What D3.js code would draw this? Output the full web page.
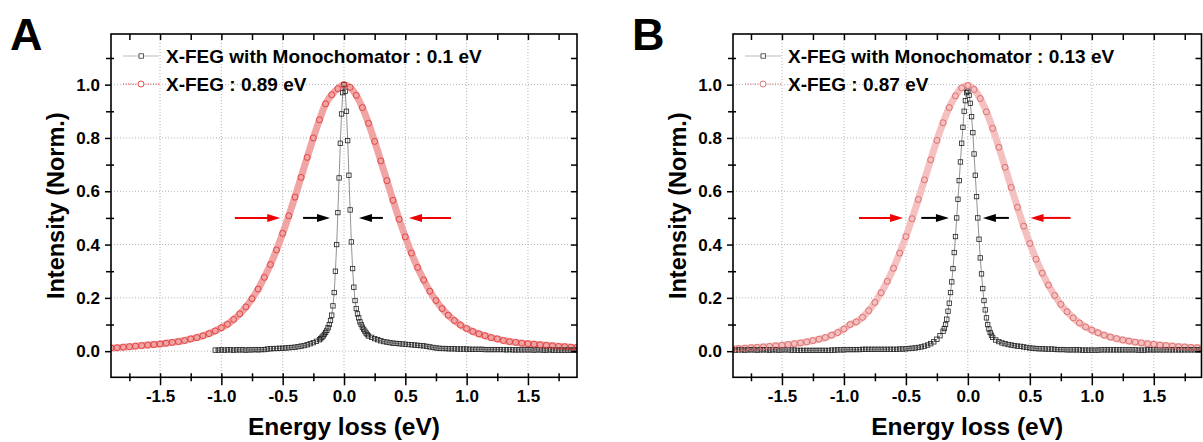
<!DOCTYPE html>
<html>
<head>
<meta charset="utf-8">
<script src="https://cdn.jsdelivr.net/npm/d3@7/dist/d3.min.js"></script>
<style>
body{margin:0;background:#fff}
text{font-family:"Liberation Sans",Arial,sans-serif;font-weight:bold;fill:#000}
</style>
</head>
<body>
<div id="canvas"></div>
<script>
"use strict"

let svgWidth=1203
let svgHeight=442

// energy sampling grids (eV)
let grid=(a,b,s)=>d3.range(Math.round((b-a)/s)+1).map(i=>+(a+i*s).toFixed(3))
let wideE=grid(-1.9,1.9,0.05)
let peakE=grid(-0.2,0.2,0.01)
let tailLeftA_E=grid(-1.05,-0.225,0.025)
let tailLeftB_E=grid(-1.9,-0.225,0.025)
let tailRight_E=grid(0.225,1.9,0.025)

// X-FEG (no monochromator), on wideE
let fegA=[.012,.013,.015,.017,.019,.021,.023,.025,.027,.030,.033,.036,.040,.046,.051,.058,.066,.076,.088,.101,
  .119,.140,.166,.197,.233,.277,.325,.380,.442,.508,.578,.652,.727,.800,.868,.928,.962,.985,1.000,
  .990,.960,.914,.855,.787,.714,.640,.566,.495,.429,.368,.314,.267,.225,.190,.160,.135,.115,.098,.085,
  .074,.065,.058,.051,.046,.040,.036,.033,.030,.028,.026,.024,.022,.020,.018,.017,.015,.014]
let fegB=[.009,.010,.011,.013,.014,.016,.018,.020,.022,.025,.028,.031,.035,.040,.045,.051,.060,.070,.083,.100,
  .110,.127,.152,.183,.219,.262,.311,.368,.430,.497,.569,.643,.718,.791,.857,.914,.958,.988,.997,
  .982,.948,.898,.836,.765,.690,.614,.540,.469,.404,.345,.293,.248,.209,.176,.148,.125,.106,.091,.079,
  .069,.060,.053,.047,.042,.038,.034,.031,.028,.026,.023,.021,.019,.017,.016,.014,.013,.012]

// X-FEG with monochromator: left tail, peak (peakE), right tail
let monoA_left=[.004,.004,.005,.004,.005,.005,.004,.005,.005,.005,.004,.005,.005,.006,.005,.006,.006,.008,.009,.010,
  .010,.011,.011,.012,.013,.014,.015,.017,.019,.021,.024,.028,.032,.037]
let monoA_peak=[.043,.047,.052,.057,.063,.070,.078,.088,.100,.115,.135,.17,.22,.30,.40,.52,.65,.78,.89,.97,1.0,
  .975,.90,.79,.66,.53,.41,.31,.24,.19,.16,.14,.125,.11,.10,.09,.082,.075,.068,.062,.057]
let monoA_right=[.052,.047,.043,.039,.036,.034,.032,.030,.029,.028,.027,.026,.025,.024,.023,.022,.021,.020,.018,.016,
  .014,.012,.011,.010,.010,.009,.009,.009,.008,.008,.008,.008,.007,.007,.007,.007,.007,.006,.006,.006,
  .006,.006,.006,.006,.005,.006,.005,.005,.005,.005,.005,.005,.005,.004,.005,.005,.004,.004,.005,.004,
  .004,.004,.004,.004,.004,.004,.004,.004]

let monoB_left=[.005,.004,.005,.005,.004,.005,.005,.005,.004,.005,.005,.005,.004,.005,.005,.004,.005,.005,.005,.004,
  .004,.003,.003,.003,.003,.003,.003,.003,.003,.003,.003,.003,.004,.004,.005,.005,.005,.006,.006,.006,
  .006,.006,.007,.007,.007,.007,.007,.007,.007,.007,.007,.007,.007,.007,.008,
  .008,.009,.010,.011,.012,.014,.016,.019,.023,.028,.035,.045,.058]
let monoB_peak=[.075,.085,.10,.12,.15,.18,.22,.26,.31,.37,.43,.50,.57,.64,.71,.78,.84,.90,.94,.97,.975,
  .96,.93,.88,.82,.74,.66,.58,.50,.42,.35,.29,.235,.19,.155,.125,.10,.083,.07,.06,.052]
let monoB_right=[.042,.036,.031,.028,.025,.023,.021,.019,.018,.016,.014,.012,.011,.010,.009,.009,.008,.008,.008,.007,
  .006,.006,.006,.005,.005,.005,.005,.005,.004,.004,.004,.004,.004,.004,.005,.005,.005,.005,.005,.005,
  .005,.005,.005,.005,.005,.005,.004,.004,.004,.005,.005,.005,.005,.005,.005,.005,.005,.005,.005,.005,
  .005,.005,.005,.005,.005,.005,.005,.005]

let legendA=["X-FEG with Monochomator : 0.1 eV","X-FEG : 0.89 eV"]
let legendB=["X-FEG with Monochomator : 0.13 eV","X-FEG : 0.87 eV"]

// FWHM markers at half maximum: [from, to, colour]
let arrowsA=[[-0.89,-0.52,"red"],[-0.334,-0.114,"black"],[0.317,0.122,"black"],[0.872,0.53,"red"]]
let arrowsB=[[-0.878,-0.523,"red"],[-0.376,-0.153,"black"],[0.331,0.121,"black"],[0.828,0.506,"red"]]
let halfMax=0.5

let xMajor=[-1.5,-1,-0.5,0,0.5,1,1.5]
let xMinor=[-1.75,-1.25,-0.75,-0.25,0.25,0.75,1.25,1.75]
let yMajor=[0,0.2,0.4,0.6,0.8,1.0]
let yMinor=[0.1,0.3,0.5,0.7,0.9,1.1]
let yDomain=[-0.098,1.19]

let pts=(E,V)=>E.map((e,i)=>[e,V[i]])

let panels=[
  {name:"A",left:111,right:577,xDomain:[-1.9,1.9],
   mono:[...pts(tailLeftA_E,monoA_left),...pts(peakE,monoA_peak),...pts(tailRight_E,monoA_right)],
   feg:pts(wideE,fegA),legend:legendA,arrows:arrowsA,band:"#f0a4a4",ring:"#e03a3a"},
  {name:"B",left:733,right:1201.5,xDomain:[-1.895,1.885],
   mono:[...pts(tailLeftB_E,monoB_left),...pts(peakE,monoB_peak),...pts(tailRight_E,monoB_right)],
   feg:pts(wideE,fegB),legend:legendB,arrows:arrowsB,band:"#f5c0c0",ring:"#d96868"}
]

let plotTop=34
let plotBottom=377.3

let drawing=d3.select("#canvas")
  .append("svg")
  .attr("width",svgWidth)
  .attr("height",svgHeight)

drawing.append("rect")
  .attr("width",svgWidth)
  .attr("height",svgHeight)
  .attr("fill","white")

function drawPanel(p){
  let x=d3.scaleLinear().domain(p.xDomain).range([p.left,p.right])
  let y=d3.scaleLinear().domain(yDomain).range([plotBottom,plotTop])
  let g=drawing.append("g")

  g.append("clipPath").attr("id","clip"+p.name)
    .append("rect").attr("x",p.left).attr("y",plotTop)
    .attr("width",p.right-p.left).attr("height",plotBottom-plotTop)

  // dotted grid
  g.selectAll(".gx").data(xMajor).join("line")
    .attr("x1",d=>x(d)).attr("x2",d=>x(d)).attr("y1",plotTop).attr("y2",plotBottom)
    .attr("stroke","#b4b4b4").attr("stroke-dasharray","1,2")
  g.selectAll(".gy").data(yMajor).join("line")
    .attr("y1",d=>y(d)).attr("y2",d=>y(d)).attr("x1",p.left).attr("x2",p.right)
    .attr("stroke","#b4b4b4").attr("stroke-dasharray","1,2")

  let plot=g.append("g").attr("clip-path",`url(#clip${p.name})`)

  // X-FEG band
  plot.append("path").attr("d",d3.line().curve(d3.curveMonotoneX).x(d=>x(d[0])).y(d=>y(d[1]))(p.feg))
    .attr("fill","none").attr("stroke",p.band).attr("stroke-width",7)

  // monochromated series
  plot.append("path").attr("d",d3.line().x(d=>x(d[0])).y(d=>y(d[1]))(p.mono))
    .attr("fill","none").attr("stroke","#777").attr("stroke-width",0.8)
  plot.selectAll(".sq").data(p.mono).join("rect")
    .attr("x",d=>x(d[0])-2.2).attr("y",d=>y(d[1])-2.2)
    .attr("width",4.4).attr("height",4.4)
    .attr("fill","none").attr("stroke","#222").attr("stroke-width",0.8)

  plot.selectAll(".ci").data(p.feg).join("circle")
    .attr("cx",d=>x(d[0])).attr("cy",d=>y(d[1])).attr("r",3)
    .attr("fill","none").attr("stroke",p.ring).attr("stroke-width",0.9)

  // arrows at half maximum
  p.arrows.forEach(a=>{
    let x1=x(a[0]),x2=x(a[1]),yy=y(halfMax),dir=Math.sign(x2-x1)
    let col=a[2]=="red"?"#f00000":"#000"
    g.append("line").attr("x1",x1).attr("x2",x2-dir*10).attr("y1",yy).attr("y2",yy)
      .attr("stroke",col).attr("stroke-width",2)
    g.append("path")
      .attr("d",`M${x2},${yy}L${x2-dir*13},${yy-4}L${x2-dir*13},${yy+4}Z`)
      .attr("fill",col)
  })

  // axes
  let fmt=d=>d.toFixed(1)
  g.append("g").attr("transform",`translate(0,${plotBottom})`)
    .call(d3.axisBottom(x).tickValues(xMajor).tickSize(8).tickPadding(5).tickFormat(fmt))
    .call(a=>a.select(".domain").remove())
    .call(a=>a.selectAll(".tick line").attr("y1",-4).attr("stroke-width",1.5))
    .call(a=>a.selectAll("text").attr("font-size",17))
  g.append("g").attr("transform",`translate(0,${plotBottom})`)
    .call(d3.axisBottom(x).tickValues(xMinor).tickSize(4).tickFormat(""))
    .call(a=>a.select(".domain").remove())
    .call(a=>a.selectAll(".tick line").attr("y1",-4).attr("stroke-width",1.5))
  g.append("g").attr("transform",`translate(0,${plotTop})`)
    .call(d3.axisTop(x).tickValues(xMajor.concat(xMinor)).tickSize(-6).tickFormat(""))
    .call(a=>a.select(".domain").remove())
    .call(a=>a.selectAll(".tick line").attr("stroke-width",1.5))

  g.append("g").attr("transform",`translate(${p.left},0)`)
    .call(d3.axisLeft(y).tickValues(yMajor).tickSize(6).tickPadding(5).tickFormat(fmt))
    .call(a=>a.select(".domain").remove())
    .call(a=>a.selectAll(".tick line").attr("stroke-width",1.5))
    .call(a=>a.selectAll("text").attr("font-size",17))
  g.append("g").attr("transform",`translate(${p.left},0)`)
    .call(d3.axisLeft(y).tickValues(yMinor).tickSize(5).tickFormat(""))
    .call(a=>a.select(".domain").remove())
    .call(a=>a.selectAll(".tick line").attr("x1",3).attr("stroke-width",1.5))
  g.append("g").attr("transform",`translate(${p.right},0)`)
    .call(d3.axisRight(y).tickValues(yMajor.concat(yMinor)).tickSize(-6).tickFormat(""))
    .call(a=>a.select(".domain").remove())
    .call(a=>a.selectAll(".tick line").attr("stroke-width",1.5))

  g.selectAll(".tick text").attr("font-family",null).attr("font-weight","bold")

  g.append("rect").attr("x",p.left).attr("y",plotTop)
    .attr("width",p.right-p.left).attr("height",plotBottom-plotTop)
    .attr("fill","none").attr("stroke","#000").attr("stroke-width",1.6)

  // legend
  let rows=[plotTop+22,plotTop+50]
  g.append("line").attr("x1",p.left+12).attr("x2",p.left+48).attr("y1",rows[0]).attr("y2",rows[0])
    .attr("stroke","#bbb").attr("stroke-width",1)
  g.append("rect").attr("x",p.left+28).attr("y",rows[0]-2.2).attr("width",4.4).attr("height",4.4)
    .attr("fill","white").attr("stroke","#333").attr("stroke-width",0.8)
  g.append("line").attr("x1",p.left+12).attr("x2",p.left+48).attr("y1",rows[1]).attr("y2",rows[1])
    .attr("stroke",p.ring).attr("stroke-width",1).attr("stroke-dasharray","1,1.5")
  g.append("circle").attr("cx",p.left+30).attr("cy",rows[1]).attr("r",3)
    .attr("fill","white").attr("stroke",p.ring).attr("stroke-width",0.9)
  p.legend.forEach((t,i)=>{
    g.append("text").attr("x",p.left+55).attr("y",rows[i]+6.5)
      .attr("font-size",19).text(t)
  })

  // titles
  g.append("text").attr("x",(p.left+p.right)/2).attr("y",435)
    .attr("text-anchor","middle").attr("font-size",24.5).text("Energy loss (eV)")
  g.append("text").attr("transform",`translate(${p.left-47},${(plotTop+plotBottom)/2}) rotate(-90)`)
    .attr("text-anchor","middle").attr("font-size",23.5).text("Intensity (Norm.)")
  g.append("text").attr("x",p.left-101).attr("y",50)
    .attr("font-size",45).text(p.name)
}

panels.forEach(drawPanel)
</script>
</body>
</html>
